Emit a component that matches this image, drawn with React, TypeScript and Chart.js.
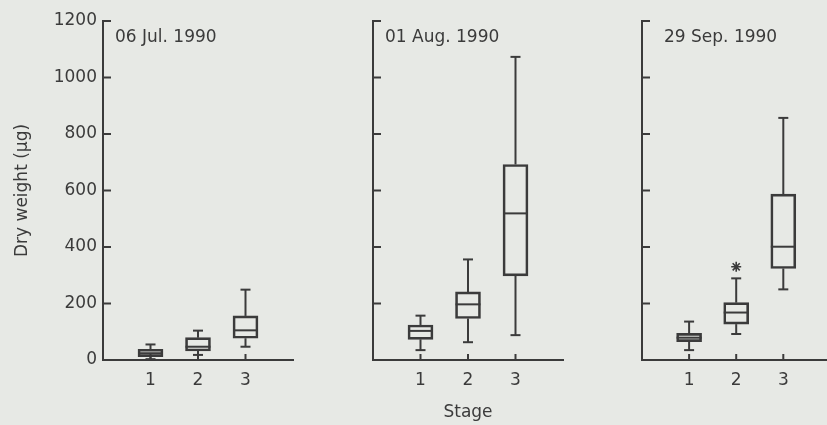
import React, { useEffect, useRef } from 'react';
import { Chart, registerables } from 'chart.js';

Chart.register(...registerables);

// ---- data ----
const stages = ['1', '2', '3'];
const stagePositions = [1, 2, 3];
const yTicks = [0, 200, 400, 600, 800, 1000, 1200];
const panelTitles = ['06 Jul. 1990', '01 Aug. 1990', '29 Sep. 1990'];
const yAxisTitle = 'Dry weight (µg)';
const xAxisTitle = 'Stage';

const julLow = [3, 18, 47];
const julQ1 = [12, 32, 77];
const julMedian = [24, 47, 105];
const julQ3 = [38, 79, 156];
const julHigh = [55, 104, 249];

const augLow = [35, 63, 88];
const augQ1 = [73, 147, 298];
const augMedian = [103, 197, 519];
const augQ3 = [124, 241, 692];
const augHigh = [157, 356, 1073];

const sepLow = [35, 92, 250];
const sepQ1 = [65, 127, 324];
const sepMedian = [79, 168, 401];
const sepQ3 = [94, 203, 587];
const sepHigh = [136, 289, 857];
const sepOutlierStage = [2];
const sepOutlierValue = [330];

// ---- style ----
const INK = '#3b3b3b';
const BG = '#e7e9e5';
const FONT = "'DejaVu Sans', sans-serif";

const boxPlugin = {
  id: 'boxExtras',
  afterDatasetsDraw(chart: any) {
    const ctx = chart.ctx;
    const xs = chart.scales.x;
    const ys = chart.scales.y;
    const area = chart.chartArea;
    const ds = chart.data.datasets[0];
    const meta = chart.getDatasetMeta(0);
    const capHalf = 5;
    ctx.save();
    ctx.strokeStyle = INK;
    ctx.lineWidth = 2;
    ctx.lineCap = 'butt';
    const line = (x1: number, y1: number, x2: number, y2: number) => {
      ctx.beginPath();
      ctx.moveTo(x1, y1);
      ctx.lineTo(x2, y2);
      ctx.stroke();
    };
    ds.data.forEach((d: any, i: number) => {
      const x = xs.getPixelForValue(d.x);
      const half = (meta.data[i] as any).width / 2;
      const q1 = ys.getPixelForValue(d.y[0]);
      const q3 = ys.getPixelForValue(d.y[1]);
      const lo = ys.getPixelForValue(ds.low[i]);
      const hi = ys.getPixelForValue(ds.high[i]);
      const med = ys.getPixelForValue(ds.median[i]);
      line(x, q3, x, hi);
      line(x - capHalf, hi, x + capHalf, hi);
      line(x, q1, x, lo);
      line(x - capHalf, lo, x + capHalf, lo);
      line(x - half, med, x + half, med);
    });
    // inward ticks
    ys.ticks.forEach((t: any) => {
      if (t.value === 0) return;
      const y = ys.getPixelForValue(t.value);
      line(area.left, y, area.left + 8, y);
    });
    xs.ticks.forEach((t: any) => {
      const x = xs.getPixelForValue(t.value);
      line(x, area.bottom, x, area.bottom - 6);
    });
    // panel title
    const opts = chart.options.plugins.boxExtras || {};
    if (opts.title) {
      ctx.fillStyle = INK;
      ctx.font = `17px ${FONT}`;
      ctx.textAlign = 'left';
      ctx.textBaseline = 'middle';
      ctx.fillText(opts.title, area.left + (opts.titleOffset || 12), area.top + 17);
    }
    ctx.restore();
  },
};

type Panel = {
  title: string;
  low: number[];
  q1: number[];
  median: number[];
  q3: number[];
  high: number[];
  outStage: number[];
  outValue: number[];
  left: number;
  width: number;
  yWidth: number;
  padRight: number;
  titleOffset: number;
  showY: boolean;
  showStage: boolean;
};

const panels: Panel[] = [
  { title: panelTitles[0], low: julLow, q1: julQ1, median: julMedian, q3: julQ3, high: julHigh, outStage: [], outValue: [], left: 0, width: 300, yWidth: 103, padRight: 7, titleOffset: 12, showY: true, showStage: false },
  { title: panelTitles[1], low: augLow, q1: augQ1, median: augMedian, q3: augQ3, high: augHigh, outStage: [], outValue: [], left: 300, width: 270, yWidth: 73, padRight: 7, titleOffset: 12, showY: false, showStage: true },
  { title: panelTitles[2], low: sepLow, q1: sepQ1, median: sepMedian, q3: sepQ3, high: sepHigh, outStage: sepOutlierStage, outValue: sepOutlierValue, left: 570, width: 267, yWidth: 72, padRight: 5, titleOffset: 22, showY: false, showStage: false },
];

function BoxPanel({ p }: { p: Panel }) {
  const ref = useRef<HTMLCanvasElement>(null);
  useEffect(() => {
    if (!ref.current) return;
    const datasets: any[] = [
      {
        type: 'bar',
        data: stagePositions.map((x, i) => ({ x, y: [p.q1[i], p.q3[i]] })),
        low: p.low,
        high: p.high,
        median: p.median,
        barThickness: 25,
        borderWidth: 2,
        borderColor: INK,
        backgroundColor: 'rgba(0,0,0,0)',
        borderSkipped: false,
        grouped: false,
      },
    ];
    if (p.outStage.length) {
      datasets.push({
        type: 'scatter',
        data: p.outStage.map((x, i) => ({ x, y: p.outValue[i] })),
        pointStyle: 'star',
        radius: 5,
        borderWidth: 1.6,
        borderColor: INK,
        backgroundColor: INK,
      });
    }
    const chart = new Chart(ref.current, {
      type: 'bar',
      data: { datasets },
      plugins: [boxPlugin],
      options: {
        animation: false,
        responsive: false,
        maintainAspectRatio: false,
        layout: { padding: { top: 21, right: p.padRight, bottom: 0, left: 0 } },
        plugins: {
          legend: { display: false },
          tooltip: { enabled: false },
          boxExtras: { title: p.title, titleOffset: p.titleOffset },
        } as any,
        scales: {
          x: {
            type: 'linear',
            min: 0,
            max: 4,
            offset: false,
            afterBuildTicks: (s: any) => {
              s.ticks = stagePositions.map((v) => ({ value: v }));
            },
            afterFit: (s: any) => {
              s.height = 65;
            },
            grid: { display: false, drawTicks: false },
            border: { display: true, color: INK, width: 2 },
            ticks: {
              color: INK,
              font: { family: FONT, size: 17 },
              padding: 10,
              maxRotation: 0,
              autoSkip: false,
              callback: (_v: any, i: number) => stages[i],
            },
            title: {
              display: p.showStage,
              text: xAxisTitle,
              color: INK,
              font: { family: FONT, size: 17 },
              padding: { top: 0, bottom: 2 },
            },
          },
          y: {
            type: 'linear',
            min: 0,
            max: 1200,
            afterBuildTicks: (s: any) => {
              s.ticks = yTicks.map((v) => ({ value: v }));
            },
            afterFit: (s: any) => {
              s.width = p.yWidth;
            },
            grid: { display: false, drawTicks: false },
            border: { display: true, color: INK, width: 2 },
            ticks: {
              display: p.showY,
              color: INK,
              font: { family: FONT, size: 17 },
              padding: 6,
              callback: (v: any) => String(v),
            },
            title: {
              display: p.showY,
              text: yAxisTitle,
              color: INK,
              font: { family: FONT, size: 17 },
              padding: { top: 12, bottom: 0 },
            },
          },
        },
      } as any,
    });
    return () => chart.destroy();
  }, [p]);
  return (
    <canvas
      ref={ref}
      width={p.width}
      height={425}
      style={{ position: 'absolute', left: p.left, top: 0, width: p.width, height: 425 }}
    />
  );
}

export default function App() {
  return (
    <div
      style={{
        position: 'fixed',
        left: 0,
        top: 0,
        width: 827,
        height: 425,
        overflow: 'hidden',
        background: BG,
      }}
    >
      {panels.map((p, i) => (
        <BoxPanel key={i} p={p} />
      ))}
    </div>
  );
}
